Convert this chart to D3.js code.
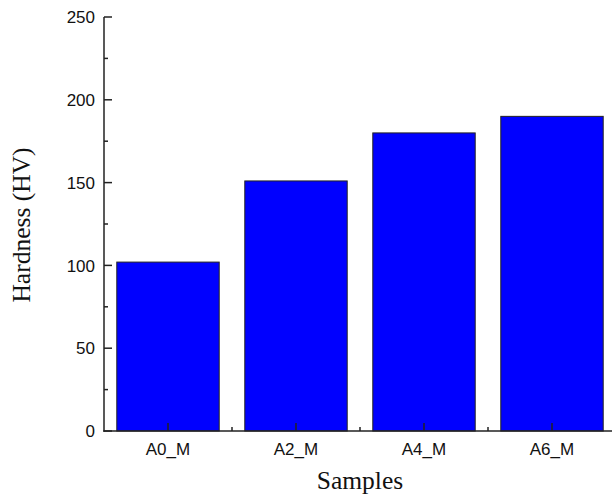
<!DOCTYPE html>
<html><head><meta charset="utf-8">
<script src="https://cdn.jsdelivr.net/npm/d3@7"></script>
<style>body{margin:0;background:#fff}svg{display:block}</style>
</head><body>
<script>
const categories = ["A0_M", "A2_M", "A4_M", "A6_M"];
const hardness = [102, 151, 180, 190];
const yTicks = [0, 50, 100, 150, 200, 250];
const yMinorTicks = [25, 75, 125, 175, 225];

const W = 612, H = 496;
const mLeft = 104, mRight = 616, mTop = 17, mBottom = 431;
const svg = d3.select("body").append("svg").attr("width", W).attr("height", H);

const x = d3.scaleBand().domain(categories).range([mLeft, mRight]).paddingInner(0.2).paddingOuter(0.1);
const xEdge = d3.scaleLinear().domain([0, categories.length]).range([mLeft, mRight]);
const y = d3.scaleLinear().domain([0, 250]).range([mBottom, mTop]);

svg.selectAll("rect.bar").data(categories).join("rect").attr("class","bar")
  .attr("x", d => x(d)).attr("width", x.bandwidth())
  .attr("y", (d,i) => y(hardness[i])).attr("height", (d,i) => y(0) - y(hardness[i]))
  .attr("fill", "#0000ff").attr("stroke", "#222").attr("stroke-width", 1);

const ax = svg.append("g").attr("stroke", "#222").attr("stroke-width", 1.5);
ax.append("line").attr("x1", mLeft).attr("x2", mLeft).attr("y1", y(250)).attr("y2", mBottom + 0.75);
ax.selectAll("line.yt").data(yTicks).join("line").attr("class","yt")
  .attr("x1", mLeft).attr("x2", mLeft + 8).attr("y1", d => y(d)).attr("y2", d => y(d));
ax.selectAll("line.ym").data(yMinorTicks).join("line").attr("class","ym")
  .attr("x1", mLeft).attr("x2", mLeft + 4).attr("y1", d => y(d)).attr("y2", d => y(d));
ax.append("line").attr("x1", mLeft - 0.75).attr("x2", mRight).attr("y1", mBottom).attr("y2", mBottom);
ax.selectAll("line.xt").data(categories).join("line").attr("class","xt")
  .attr("x1", d => x(d) + x.bandwidth()/2).attr("x2", d => x(d) + x.bandwidth()/2)
  .attr("y1", mBottom).attr("y2", mBottom - 8);
ax.selectAll("line.xm").data(d3.range(1, categories.length)).join("line").attr("class","xm")
  .attr("x1", d => xEdge(d)).attr("x2", d => xEdge(d))
  .attr("y1", mBottom).attr("y2", mBottom - 4);

svg.selectAll("text.yl").data(yTicks).join("text").attr("class","yl")
  .attr("x", 95).attr("y", d => y(d)).attr("dy", "0.36em").attr("text-anchor", "end")
  .attr("font-family", "Liberation Sans, Arial, sans-serif").attr("font-size", 17).attr("fill", "#111")
  .text(d => d);
svg.selectAll("text.xl").data(categories).join("text").attr("class","xl")
  .attr("x", d => x(d) + x.bandwidth()/2).attr("y", 455).attr("text-anchor", "middle")
  .attr("font-family", "Liberation Sans, Arial, sans-serif").attr("font-size", 17).attr("fill", "#111")
  .text(d => d);

svg.append("text").attr("x", (mLeft + mRight)/2).attr("y", 489).attr("text-anchor", "middle")
  .attr("font-family", "Liberation Serif, Times New Roman, serif").attr("font-size", 25.5).attr("fill", "#111")
  .text("Samples");
svg.append("text").attr("transform", `translate(30,${(mTop+mBottom)/2 + 1}) rotate(-90)`).attr("text-anchor", "middle")
  .attr("font-family", "Liberation Serif, Times New Roman, serif").attr("font-size", 25.5).attr("fill", "#111")
  .text("Hardness (HV)");
</script>
</body></html>
